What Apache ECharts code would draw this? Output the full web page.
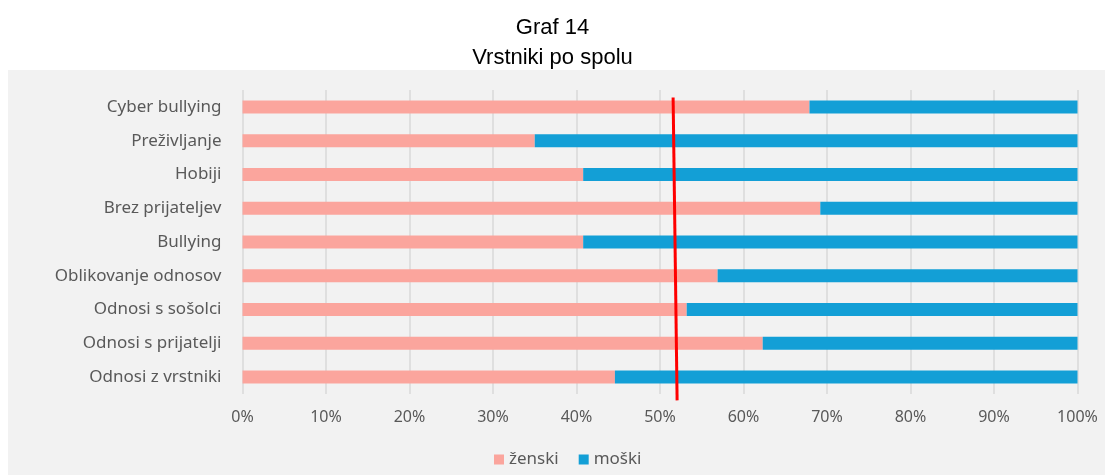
<!DOCTYPE html>
<html>
<head>
<meta charset="utf-8">
<script src="https://cdn.jsdelivr.net/npm/echarts@6/dist/echarts.min.js"></script>
<style>
  html, body { margin: 0; padding: 0; background: #fff; }
  #chart { width: 1105px; height: 475px; }
</style>
</head>
<body>
<div id="chart"></div>
<script>
// podatki
var kategorije = ['Cyber bullying', 'Preživljanje', 'Hobiji', 'Brez prijateljev', 'Bullying',
  'Oblikovanje odnosov', 'Odnosi s sošolci', 'Odnosi s prijatelji', 'Odnosi z vrstniki'];
var zenski = [67.9, 35.0, 40.8, 69.2, 40.8, 56.9, 53.2, 62.3, 44.6];
var moski = [32.1, 65.0, 59.2, 30.8, 59.2, 43.1, 46.8, 37.7, 55.4];
// rocno narisana rdeca crta (x v %, y relativno 0..1 na visini grafa)
var rdecaCrta = [[51.57, 0.975], [52.05, -0.021]];

var siva = '#595959';
var myChart = echarts.init(document.getElementById('chart'));

myChart.setOption({
  animation: false,
  graphic: [{
    type: 'rect',
    z: -10,
    shape: { x: 8, y: 70, width: 1097, height: 405 },
    style: { fill: '#f2f2f2' }
  }],
  title: {
    text: 'Graf 14\nVrstniki po spolu',
    left: 'center',
    top: 8,
    textStyle: {
      fontFamily: 'Liberation Sans',
      fontWeight: 'normal',
      fontSize: 22,
      lineHeight: 30,
      color: '#000'
    }
  },
  legend: {
    data: ['ženski', 'moški'],
    bottom: 2,
    left: 489,
    icon: 'rect',
    itemWidth: 10,
    itemHeight: 10,
    itemGap: 20,
    textStyle: { color: siva, fontSize: 17, fontFamily: 'Noto Sans' }
  },
  grid: { left: 242.5, right: 27.5, top: 90, bottom: 81 },
  xAxis: {
    type: 'value',
    min: 0,
    max: 100,
    interval: 10,
    axisLine: { show: false },
    axisTick: { show: false },
    axisLabel: { formatter: '{value}%', color: siva, fontSize: 16, margin: 15, fontFamily: 'Noto Sans' },
    splitLine: { lineStyle: { color: '#d9d9d9', width: 1.5 } }
  },
  yAxis: [{
    type: 'category',
    inverse: true,
    data: kategorije,
    axisLine: { show: false },
    axisTick: { show: false },
    axisLabel: { color: siva, fontSize: 17, margin: 21, fontFamily: 'Noto Sans' }
  }, {
    type: 'value',
    min: 0,
    max: 1,
    show: false
  }],
  series: [{
    name: 'ženski',
    type: 'bar',
    stack: 'skupaj',
    barWidth: 13,
    itemStyle: { color: '#fba59d' },
    data: zenski
  }, {
    name: 'moški',
    type: 'bar',
    stack: 'skupaj',
    barWidth: 13,
    itemStyle: { color: '#139fd6' },
    data: moski
  }, {
    name: 'crta',
    type: 'line',
    yAxisIndex: 1,
    clip: false,
    silent: true,
    symbol: 'none',
    lineStyle: { color: '#ff0000', width: 3 },
    data: rdecaCrta
  }]
});
</script>
</body>
</html>
